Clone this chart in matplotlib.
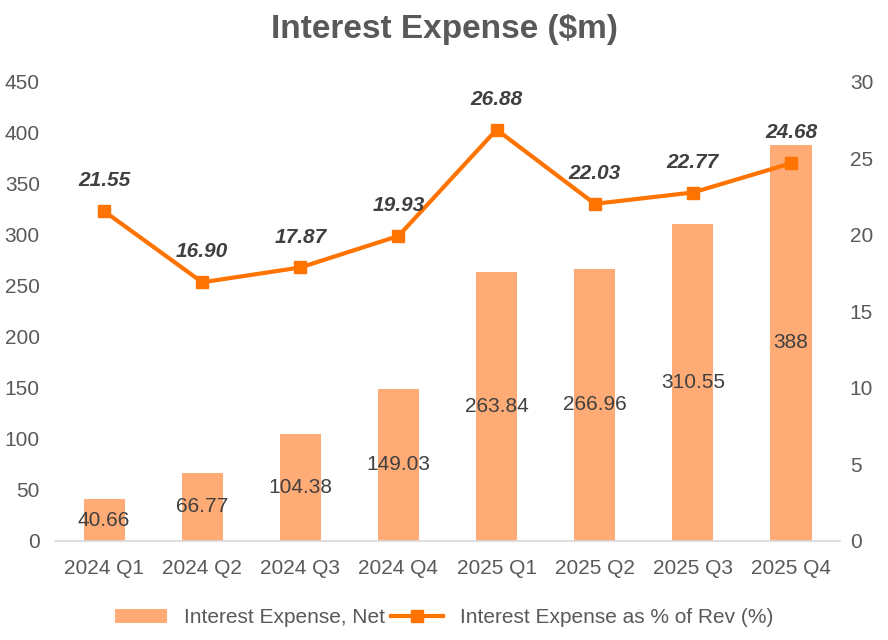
import numpy as np
import matplotlib
matplotlib.use("Agg")
from matplotlib import pyplot as plt

quarters = ["2024 Q1", "2024 Q2", "2024 Q3", "2024 Q4",
            "2025 Q1", "2025 Q2", "2025 Q3", "2025 Q4"]
expense = [40.66, 66.77, 104.38, 149.03, 263.84, 266.96, 310.55, 388]
expense_labels = ["40.66", "66.77", "104.38", "149.03", "263.84", "266.96", "310.55", "388"]
pct_rev = [21.55, 16.90, 17.87, 19.93, 26.88, 22.03, 22.77, 24.68]

bar_color = "#FFAB76"
line_color = "#FF7300"
text_grey = "#595959"

plt.rcParams['font.family'] = ['Liberation Sans', 'DejaVu Sans']

fig = plt.figure(figsize=(8.88, 6.4), dpi=100)
ax = fig.add_axes([0.062, 0.155, 0.884, 0.717])
ax2 = ax.twinx()

x = np.arange(len(quarters))
bars = ax.bar(x, expense, width=0.42, color=bar_color, label="Interest Expense, Net", zorder=1)
for xi, v, lab in zip(x, expense, expense_labels):
    ax.text(xi, v / 2, lab, ha='center', va='center', fontsize=15, color="#404040")

ln, = ax2.plot(x, pct_rev, color=line_color, lw=3, marker='s', markersize=8.5,
               label="Interest Expense as % of Rev (%)", zorder=3)
for xi, v in zip(x, pct_rev):
    ax2.annotate(f"{v:.2f}", (xi, v), xytext=(0, 15), textcoords='offset points',
                 ha='center', va='bottom', fontsize=15, fontweight='bold',
                 fontstyle='italic', color="#404040")

ax.set_xlim(-0.5, len(quarters) - 0.5)
ax.set_ylim(0, 450)
ax.set_yticks(np.arange(0, 451, 50))
ax2.set_ylim(0, 30)
ax2.set_yticks(np.arange(0, 31, 5))
ax.set_xticks(x)
ax.set_xticklabels(quarters)

for a in (ax, ax2):
    for s in a.spines.values():
        s.set_visible(False)
ax.spines['bottom'].set_visible(True)
ax.spines['bottom'].set_color("#D9D9D9")
ax.spines['bottom'].set_linewidth(1.2)

ax.tick_params(axis='x', length=0, pad=13, labelsize=15, labelcolor=text_grey)
ax.tick_params(axis='y', length=0, pad=11, labelsize=15, labelcolor=text_grey)
ax2.tick_params(axis='y', length=0, pad=7, labelsize=15, labelcolor=text_grey)

ax2.set_zorder(ax.get_zorder() + 1)
ax2.patch.set_visible(False)

fig.suptitle("Interest Expense ($m)", x=0.5, y=0.978, fontsize=24, fontweight='bold',
             color=text_grey)

fig.legend([bars, ln], ["Interest Expense, Net", "Interest Expense as % of Rev (%)"],
           loc='center', bbox_to_anchor=(0.5, 0.035), ncol=2, frameon=False,
           fontsize=15, labelcolor=text_grey, handlelength=2.5, handletextpad=0.8,
           columnspacing=0.3)

fig.savefig("out.png", dpi=100)
